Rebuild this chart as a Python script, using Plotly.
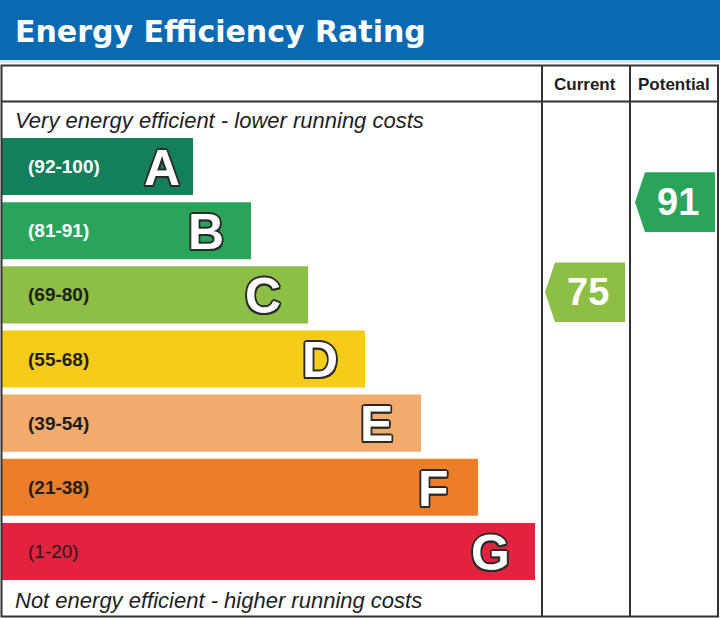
import plotly.graph_objects as go

# EPC bands, top (most efficient) to bottom
bands = ["A", "B", "C", "D", "E", "F", "G"]
band_ranges = ["(92-100)", "(81-91)", "(69-80)", "(55-68)", "(39-54)", "(21-38)", "(1-20)"]
band_lo = [92, 81, 69, 55, 39, 21, 1]
band_hi = [100, 91, 80, 68, 54, 38, 20]
bar_length = [191, 249, 306, 363, 419, 476, 533]
band_colors = ["#137f5b", "#2ba45b", "#8dbe45", "#f6cc1b", "#f2aa6d", "#ec7e2a", "#e2223e"]

current_rating = 75
potential_rating = 91

W, H = 720, 618
BAR_W = 0.89
ARROW_H = 0.93
EDGE = "#333333"
FONT = "Liberation Sans"


def band_index(v):
    for i, (lo, hi) in enumerate(zip(band_lo, band_hi)):
        if lo <= v <= hi:
            return i
    return len(bands) - 1


def rating_y(v):
    i = band_index(v)
    frac = (band_hi[i] - v) / (band_hi[i] - band_lo[i])
    return i - BAR_W / 2 + frac * BAR_W


fig = go.Figure()

# rating bars
fig.add_trace(go.Bar(
    y=list(range(len(bands))), x=bar_length, base=2, orientation="h",
    width=BAR_W, marker=dict(color=band_colors, line=dict(width=0)),
    xaxis="x", yaxis="y2", hoverinfo="skip", showlegend=False,
))

annotations = []
outline = ("-1.5px -1.5px 0 #2b2b2b, 1.5px -1.5px 0 #2b2b2b, "
           "-1.5px 1.5px 0 #2b2b2b, 1.5px 1.5px 0 #2b2b2b, "
           "0 1.8px 0 #2b2b2b, 0 -1.8px 0 #2b2b2b, 1.8px 0 0 #2b2b2b, -1.8px 0 0 #2b2b2b")
for i, (b, r, L) in enumerate(zip(bands, band_ranges, bar_length)):
    txt_col = "white" if i < 2 else "#1e1e1e"
    annotations.append(dict(
        x=26, y=i, xref="x", yref="y2", text=r, showarrow=False, xanchor="left",
        font=dict(family=FONT, size=19, color=txt_col,
                  weight="normal" if b == "G" else "bold"),
    ))
    cx = 2 + L - (31 if b == "A" else 45)
    annotations.append(dict(
        x=cx, y=i + 0.02, xref="x", yref="y2", text=b, showarrow=False,
        font=dict(family=FONT, size=50, color="white", weight="bold", shadow=outline),
    ))


def add_arrow(value, x_left, x_right):
    i = band_index(value)
    yc = rating_y(value)
    tip, body = x_left, x_left + 10
    xs = [tip, body, x_right, x_right, body, tip]
    ys = [yc, yc - ARROW_H / 2, yc - ARROW_H / 2, yc + ARROW_H / 2, yc + ARROW_H / 2, yc]
    fig.add_trace(go.Scatter(
        x=xs, y=ys, fill="toself", fillcolor=band_colors[i], mode="lines",
        line=dict(width=0, color=band_colors[i]), xaxis="x", yaxis="y2",
        hoverinfo="skip", showlegend=False,
    ))
    annotations.append(dict(
        x=(body + x_right) / 2 - 2, y=yc, xref="x", yref="y2", text=str(value),
        showarrow=False, font=dict(family=FONT, size=38, color="white", weight="bold"),
    ))


add_arrow(current_rating, 545, 625)
add_arrow(potential_rating, 635, 715)

# title banner and table frame (pixel coordinates on x / y)
shapes = [
    dict(type="rect", xref="x", yref="y", x0=0, x1=W, y0=0, y1=60,
         fillcolor="#0b69b2", line=dict(width=0), layer="below"),
    dict(type="rect", xref="x", yref="y", x0=0, x1=W, y0=60, y1=63,
         fillcolor="#d9e5f0", line=dict(width=0), layer="below"),
    dict(type="rect", xref="x", yref="y", x0=1.5, x1=718, y0=65.5, y1=616.5,
         line=dict(color=EDGE, width=2)),
    dict(type="line", xref="x", yref="y", x0=1.5, x1=718, y0=101.5, y1=101.5,
         line=dict(color=EDGE, width=2)),
    dict(type="line", xref="x", yref="y", x0=542, x1=542, y0=65.5, y1=616.5,
         line=dict(color=EDGE, width=2)),
    dict(type="line", xref="x", yref="y", x0=630, x1=630, y0=65.5, y1=616.5,
         line=dict(color=EDGE, width=2)),
]

annotations += [
    dict(x=13, y=31, xref="x", yref="y", text="Energy Efficiency Rating", showarrow=False,
         xanchor="left", font=dict(family="DejaVu Sans", size=30, color="white", weight="bold")),
    dict(x=585, y=84, xref="x", yref="y", text="Current", showarrow=False,
         font=dict(family=FONT, size=17, color="#1e1e1e", weight="bold")),
    dict(x=674, y=84, xref="x", yref="y", text="Potential", showarrow=False,
         font=dict(family=FONT, size=17, color="#1e1e1e", weight="bold")),
    dict(x=13, y=120, xref="x", yref="y", text="Very energy efficient - lower running costs",
         showarrow=False, xanchor="left",
         font=dict(family=FONT, size=22, color="#1e1e1e", style="italic")),
    dict(x=13, y=600, xref="x", yref="y", text="Not energy efficient - higher running costs",
         showarrow=False, xanchor="left",
         font=dict(family=FONT, size=22, color="#1e1e1e", style="italic")),
]

top_px, bot_px = 134.5, 583.5
fig.update_layout(
    width=W, height=H, margin=dict(l=0, r=0, t=0, b=0),
    paper_bgcolor="white", plot_bgcolor="white",
    xaxis=dict(range=[0, W], visible=False, fixedrange=True),
    yaxis=dict(range=[H, 0], domain=[0, 1], visible=False, fixedrange=True),
    yaxis2=dict(range=[len(bands) - 0.5, -0.5], domain=[1 - bot_px / H, 1 - top_px / H],
                anchor="x", visible=False, fixedrange=True),
    shapes=shapes, annotations=annotations, showlegend=False,
)

fig.write_html(
    "out.html",
    config={"displayModeBar": False},
    post_script="document.body.style.margin='0';document.body.style.overflow='hidden';",
)
